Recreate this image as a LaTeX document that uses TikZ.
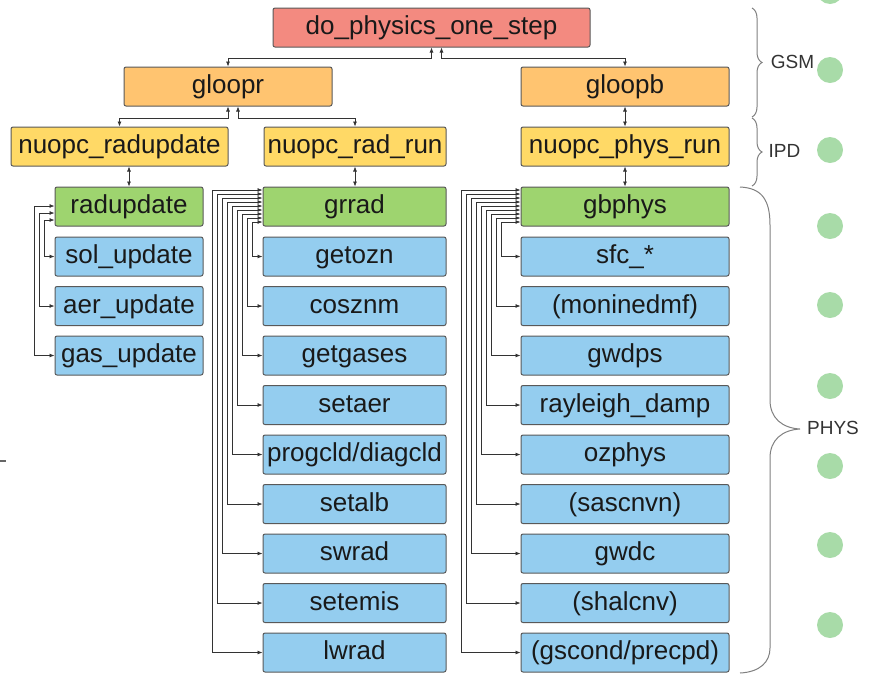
\documentclass[tikz,border=0pt]{standalone}
\usepackage{fontspec}
\setmainfont{Liberation Sans}
\usetikzlibrary{arrows.meta,decorations.pathreplacing}
\definecolor{callred}{HTML}{F38A80}
\definecolor{callorange}{HTML}{FFC470}
\definecolor{callyellow}{HTML}{FFD966}
\definecolor{callgreen}{HTML}{9ED46F}
\definecolor{callblue}{HTML}{94CDEF}
\definecolor{dotgreen}{HTML}{A8DBA8}
\tikzset{
  box/.style={draw=black!65, line width=1pt, rounded corners=2pt, minimum height=39pt,
    inner sep=0pt, text height=19pt, text depth=5pt, font=\fontsize{26}{30}\selectfont, text=black!90},
  >={Latex[length=5pt,width=4pt]},
  link/.style={<->, draw=black!80, line width=0.7pt},
  grp/.style={draw=black!50, line width=1pt},
  grplabel/.style={font=\fontsize{19}{22}\selectfont, text=black!80},
}
\begin{document}
\begin{tikzpicture}[x=1pt,y=-1pt]
\useasboundingbox (0,0) rectangle (870,673);
% top of the call tree
\node[box, fill=callred, minimum width=317pt] (dops) at (431.5,27.5) {do\_physics\_one\_step};
\node[box, fill=callorange, minimum width=208pt] (gloopr) at (228,86.5) {gloopr};
\node[box, fill=callorange, minimum width=208pt] (gloopb) at (625,86.5) {gloopb};
\node[box, fill=callyellow, minimum width=217pt] (nradupd) at (119.5,146.5) {nuopc\_radupdate};
\node[box, fill=callyellow, minimum width=182pt] (nradrun) at (355,146.5) {nuopc\_rad\_run};
\node[box, fill=callyellow, minimum width=208pt] (nphysrun) at (625,146.5) {nuopc\_phys\_run};
\node[box, fill=callgreen, minimum width=148pt] (radupdate) at (129,206.5) {radupdate};
\node[box, fill=callgreen, minimum width=183pt] (grrad) at (354.5,206.5) {grrad};
\node[box, fill=callgreen, minimum width=208pt] (gbphys) at (625,206.5) {gbphys};
\draw[link] (dops.south) -- ++(0,11) -| (gloopr);
\draw[link] ([xshift=10pt]dops.south) -- ++(0,11) -| (gloopb);
\draw[link] (gloopr.south) -- ++(0,12) -| (nradupd);
\draw[link] ([xshift=10pt]gloopr.south) -- ++(0,12) -| (nradrun);
\draw[link] (gloopb) -- (nphysrun);
\draw[link] (radupdate.north |- nradupd.south) -- (radupdate.north);
\draw[link] (nradrun.south) -- (nradrun.south |- grrad.north);
\draw[link] (nphysrun) -- (gbphys);
% radiation update
\foreach \name/\txt [count=\i] in {sol/sol\_update, aer/aer\_update, gas/gas\_update} {
  \node[box, fill=callblue, minimum width=148pt] (\name) at (129,207+49.5*\i) {\txt};
  \draw[link] ([yshift={7pt*\i-20.5pt}]radupdate.west) -- ++({-5-5*\i},0) |- (\name.west);
}
% radiation
\foreach \name/\txt [count=\i] in {getozn/getozn, cosznm/cosznm, getgases/getgases,
    setaer/setaer, progcld/{progcld/diagcld}, setalb/setalb, swrad/swrad,
    setemis/setemis, lwrad/lwrad} {
  \node[box, fill=callblue, minimum width=183pt] (\name) at (354.5,207+49.5*\i) {\txt};
  \draw[link] ([yshift={4pt*\i-19.5pt}]grrad.west) -- ++({-5-5*\i},0) |- (\name.west);
}
% physics
\foreach \name/\txt [count=\i] in {sfc/sfc\_*, monin/(moninedmf), gwdps/gwdps,
    rayleigh/rayleigh\_damp, ozphys/ozphys, sascnv/(sascnvn), gwdc/gwdc,
    shalcnv/(shalcnv), gscond/{(gscond/precpd)}} {
  \node[box, fill=callblue, minimum width=208pt] (\name) at (625,207+49.5*\i) {\txt};
  \draw[link] ([yshift={4pt*\i-19.5pt}]gbphys.west) -- ++({-14-5*\i},0) |- (\name.west);
}
% groups
\draw[grp, decorate, decoration={brace, amplitude=10pt}] (752,8) -- (752,117);
\node[grplabel] (gsm) at (792.5,62) {GSM};
\draw[grp, decorate, decoration={brace, amplitude=10pt}] (752,118) -- (752,186);
\node[grplabel] (ipd) at (784.5,151) {IPD};
\draw[grp] (740,187) .. controls (762,188) and (770,200) .. (770,225) -- (770,400)
  .. controls (770,418) and (782,428) .. (800,429)
  .. controls (782,430) and (770,440) .. (770,458) -- (770,648)
  .. controls (770,662) and (760,672) .. (740,673);
\node[grplabel] (phys) at (833,428) {PHYS};
\foreach \y in {-9,70,150,226,305,386,466,545,625}
  \fill[dotgreen] (830,\y) circle (13pt);
\draw[black!60, line width=2pt] (0,461) -- (6,461);
\end{tikzpicture}
\end{document}
